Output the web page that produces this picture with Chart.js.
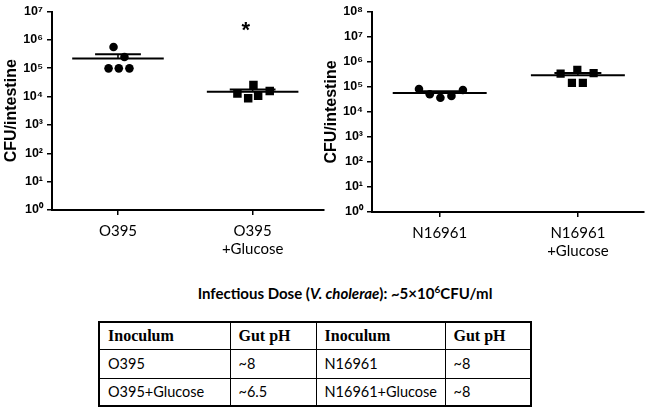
<!DOCTYPE html>
<html><head><meta charset="utf-8">
<script src="https://cdn.jsdelivr.net/npm/chart.js@4.4.1/dist/chart.umd.min.js"></script>
<style>
html,body{margin:0;padding:0;background:#fff;}
body{width:650px;height:408px;position:relative;overflow:hidden;}
#w1{position:absolute;left:0;top:0;width:330px;height:270px;}
#w2{position:absolute;left:320px;top:0;width:330px;height:270px;}
#title{position:absolute;top:284px;left:0;width:690px;text-align:center;font:bold 15px Lato, sans-serif;color:#000;}
#title sup{font-size:10px;line-height:0;vertical-align:6px;}
table{position:absolute;left:98px;top:321px;border-collapse:collapse;border:2px solid #000;}
td{border:1px solid #000;padding:0 0 0 8px;font:14.5px Lato, sans-serif;color:#000;box-sizing:border-box;}
tr.h td{font:bold 16px "Liberation Serif", serif;height:27px;}
tr.r1 td{height:29px;}
tr.r2 td{height:28px;}
</style></head>
<body>
<div id="w1"><canvas id="c1" width="330" height="270"></canvas></div>
<div id="w2"><canvas id="c2" width="330" height="270"></canvas></div>
<div id="title">Infectious Dose (<i>V. cholerae</i>): ~5×10<sup>6</sup>CFU/ml</div>
<table>
<tr class="h"><td style="width:131px">Inoculum</td><td style="width:86px">Gut pH</td><td style="width:129px">Inoculum</td><td style="width:86px">Gut pH</td></tr>
<tr class="r1"><td>O395</td><td>~8</td><td>N16961</td><td>~8</td></tr>
<tr class="r2"><td>O395+Glucose</td><td>~6.5</td><td>N16961+Glucose</td><td>~8</td></tr>
</table>
<script>
// ---- data ----
const categoriesLeft = ['O395', ['O395', '+Glucose']];
const categoriesRight = ['N16961', ['N16961', '+Glucose']];

const o395 = [5.6e5, 2.5e5, 9.9e4, 9.9e4, 9.9e4];
const o395Jitter = [-0.033, 0.048, -0.070, 0.006, 0.085];
const o395Glucose = [2.57e4, 1.27e4, 8.8e3, 1.06e4, 1.58e4];
const o395GlucoseJitter = [0.006, -0.113, -0.033, 0.041, 0.127];

const n16961 = [8.3e4, 5.1e4, 3.7e4, 4.4e4, 7.6e4];
const n16961Jitter = [-0.150, -0.072, 0.005, 0.085, 0.168];
const n16961Glucose = [3.4e5, 4.9e5, 3.6e5, 1.45e5, 1.45e5];
const n16961GlucoseJitter = [-0.125, -0.004, 0.114, -0.043, 0.036];

const yTicksLeft = [1, 1e1, 1e2, 1e3, 1e4, 1e5, 1e6, 1e7];
const yLabelsLeft = ['10⁰', '10¹', '10²', '10³', '10⁴', '10⁵', '10⁶', '10⁷'];
const yTicksRight = [1, 1e1, 1e2, 1e3, 1e4, 1e5, 1e6, 1e7, 1e8];
const yLabelsRight = ['10⁰', '10¹', '10²', '10³', '10⁴', '10⁵', '10⁶', '10⁷', '10⁸'];

const significanceMark = { text: '*', category: 1, shift: -0.05, value: 3.6e6 };
const yAxisTitle = 'CFU/intestine';

// ---- helpers ----
function stats(v) {
  const n = v.length;
  const m = v.reduce((a, b) => a + b, 0) / n;
  const sd = Math.sqrt(v.reduce((a, b) => a + (b - m) * (b - m), 0) / (n - 1));
  return { mean: m, sem: sd / Math.sqrt(n) };
}
function groupDatasets(values, jitter, cat, style, radius) {
  const s = stats(values);
  const lineBase = { type: 'line', borderColor: '#000', pointRadius: 0, fill: false, tension: 0, order: 2 };
  return [
    { type: 'scatter', data: values.map((v, i) => ({ x: cat + jitter[i], y: v })),
      pointStyle: style, pointRadius: radius, backgroundColor: '#000', borderColor: '#000', borderWidth: 0, order: 1 },
    Object.assign({}, lineBase, { data: [{ x: cat - 0.34, y: s.mean }, { x: cat + 0.34, y: s.mean }], borderWidth: 2 }),
    Object.assign({}, lineBase, { data: [{ x: cat - 0.17, y: s.mean + s.sem }, { x: cat + 0.17, y: s.mean + s.sem }], borderWidth: 2 }),
    Object.assign({}, lineBase, { data: [{ x: cat, y: s.mean }, { x: cat, y: s.mean + s.sem }], borderWidth: 1.5 })
  ];
}

const markPlugin = {
  id: 'mark',
  afterDatasetsDraw(chart, args, opts) {
    if (!opts || !opts.mark) return;
    const mk = opts.mark;
    const ctx = chart.ctx;
    const x = chart.scales.x.getPixelForValue(mk.category + mk.shift);
    const y = chart.scales.y.getPixelForValue(mk.value);
    ctx.save();
    ctx.fillStyle = '#000';
    ctx.font = 'bold 22px "Liberation Sans", Arial, sans-serif';
    ctx.textAlign = 'center';
    ctx.textBaseline = 'alphabetic';
    ctx.fillText(mk.text, x, y + 12.5);
    ctx.restore();
  }
};

function makeChart(id, cats, datasets, yTicks, yLabels, xMin, xMax, padTop, plotBottom, mark) {
  return new Chart(document.getElementById(id), {
    data: { datasets },
    plugins: [markPlugin],
    options: {
      responsive: false,
      animation: false,
      events: [],
      layout: { padding: { left: 0, right: 5, top: padTop, bottom: 0 } },
      plugins: { legend: { display: false }, tooltip: { enabled: false }, mark: { mark } },
      scales: {
        x: {
          type: 'linear', min: xMin, max: xMax,
          afterBuildTicks: s => { s.ticks = cats.map((_, i) => ({ value: i })); },
          afterFit: s => { s.height = 270 - plotBottom; },
          ticks: {
            autoSkip: false, maxRotation: 0, minRotation: 0, padding: 7, color: '#000',
            font: { family: 'Lato', size: 15 },
            callback: v => cats[Math.round(v)]
          },
          grid: { display: true, drawOnChartArea: false, drawTicks: true, tickLength: 5, color: '#000', lineWidth: 1.5 },
          border: { display: true, color: '#000', width: 2 }
        },
        y: {
          type: 'logarithmic', min: yTicks[0], max: yTicks[yTicks.length - 1],
          afterBuildTicks: s => { s.ticks = yTicks.map(v => ({ value: v })); },
          afterFit: s => { s.width = 52; },
          ticks: {
            autoSkip: false, padding: 4, color: '#000',
            font: { family: '"Liberation Sans", Arial, sans-serif', size: 12.5, weight: 'bold' },
            callback: (v, i) => yLabels[i]
          },
          title: { display: true, text: yAxisTitle, color: '#000', padding: { top: 2, bottom: 0 },
                   font: { family: '"Liberation Sans", Arial, sans-serif', size: 16, weight: 'bold' } },
          grid: { display: true, drawOnChartArea: false, drawTicks: true, tickLength: 5, color: '#000', lineWidth: 1.5 },
          border: { display: true, color: '#000', width: 2 }
        }
      }
    }
  });
}

makeChart('c1', categoriesLeft,
  [...groupDatasets(o395, o395Jitter, 0, 'circle', 4.3), ...groupDatasets(o395Glucose, o395GlucoseJitter, 1, 'rect', 6)],
  yTicksLeft, yLabelsLeft, -0.49, 1.53, 10, 210, significanceMark);

makeChart('c2', categoriesRight,
  [...groupDatasets(n16961, n16961Jitter, 0, 'circle', 4.3), ...groupDatasets(n16961Glucose, n16961GlucoseJitter, 1, 'rect', 5.8)],
  yTicksRight, yLabelsRight, -0.49, 1.48, 12, 212, null);
</script>
</body></html>
